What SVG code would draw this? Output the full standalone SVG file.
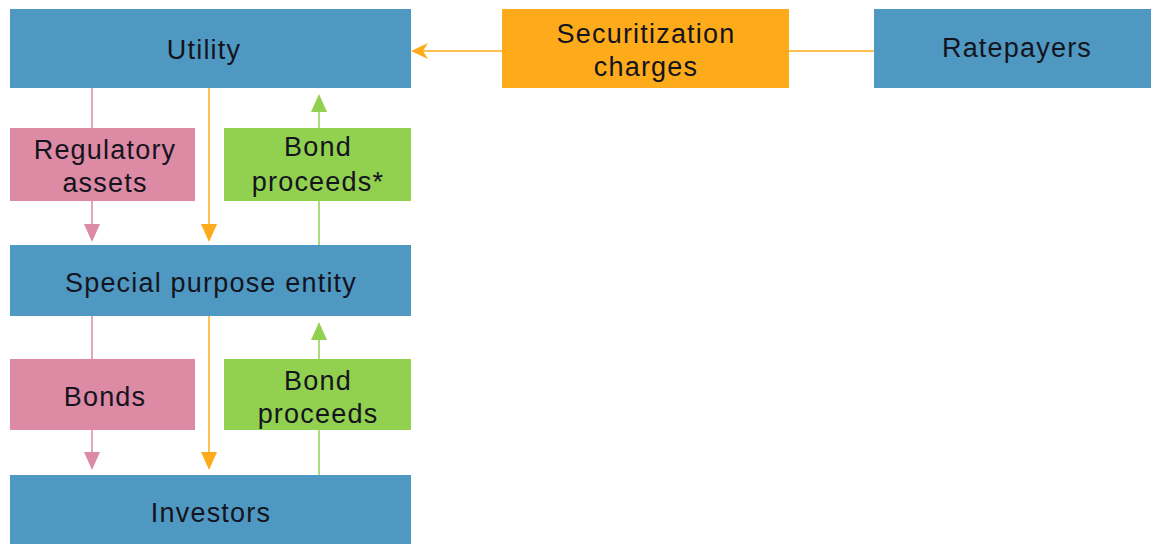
<svg xmlns="http://www.w3.org/2000/svg" width="1151" height="544" viewBox="0 0 1151 544">
<style>
.blue{fill:#4f98c1}
.org{fill:#fdab1a}
.pink{fill:#dd8aa4}
.grn{fill:#92d050}
text{font-family:"Liberation Sans",Arial,sans-serif;font-size:27px;letter-spacing:1.2px;fill:#14141e;text-anchor:middle}
.lp{stroke:#dd8aa4;stroke-width:1.5;fill:none}
.lo{stroke:#fdab1a;stroke-width:1.5;fill:none}
.lg{stroke:#92d050;stroke-width:1.5;fill:none}
</style>
<rect width="1151" height="544" fill="#fff"/>
<g id="connectors">
<line class="lo" x1="874" y1="51" x2="420" y2="51"/>
<path d="M411,51 L428,43 L423,51 L428,59 Z" fill="#fdab1a"/>
<line class="lp" x1="92" y1="88" x2="92" y2="230"/>
<path d="M92,242 L84,224 L100,224 Z" fill="#dd8aa4"/>
<line class="lo" x1="209" y1="88" x2="209" y2="230"/>
<path d="M209,242 L201,224 L217,224 Z" fill="#fdab1a"/>
<line class="lg" x1="319" y1="245" x2="319" y2="106"/>
<path d="M319,94 L311,112 L327,112 Z" fill="#92d050"/>
<line class="lp" x1="92" y1="316" x2="92" y2="458"/>
<path d="M92,470 L84,452 L100,452 Z" fill="#dd8aa4"/>
<line class="lo" x1="209" y1="316" x2="209" y2="458"/>
<path d="M209,470 L201,452 L217,452 Z" fill="#fdab1a"/>
<line class="lg" x1="319" y1="475" x2="319" y2="334"/>
<path d="M319,322 L311,340 L327,340 Z" fill="#92d050"/>
</g>
<g id="utility"><rect class="blue" x="10" y="9" width="401" height="79"/><text x="204" y="59">Utility</text></g>
<g id="securitization"><rect class="org" x="502" y="9" width="287" height="79"/><text x="646" y="43">Securitization</text><text x="646" y="76">charges</text></g>
<g id="ratepayers"><rect class="blue" x="874" y="9" width="277" height="79"/><text x="1017" y="57">Ratepayers</text></g>
<g id="regulatory"><rect class="pink" x="10" y="128" width="185" height="73"/><text x="105" y="159">Regulatory</text><text x="105" y="192">assets</text></g>
<g id="proceeds1"><rect class="grn" x="224" y="128" width="187" height="73"/><text x="318" y="156">Bond</text><text x="318" y="191">proceeds*</text></g>
<g id="spe"><rect class="blue" x="10" y="245" width="401" height="71"/><text x="211" y="292">Special purpose entity</text></g>
<g id="bonds"><rect class="pink" x="10" y="359" width="185" height="71"/><text x="105" y="406">Bonds</text></g>
<g id="proceeds2"><rect class="grn" x="224" y="359" width="187" height="71"/><text x="318" y="390">Bond</text><text x="318" y="423">proceeds</text></g>
<g id="investors"><rect class="blue" x="10" y="475" width="401" height="69"/><text x="211" y="522">Investors</text></g>
</svg>
